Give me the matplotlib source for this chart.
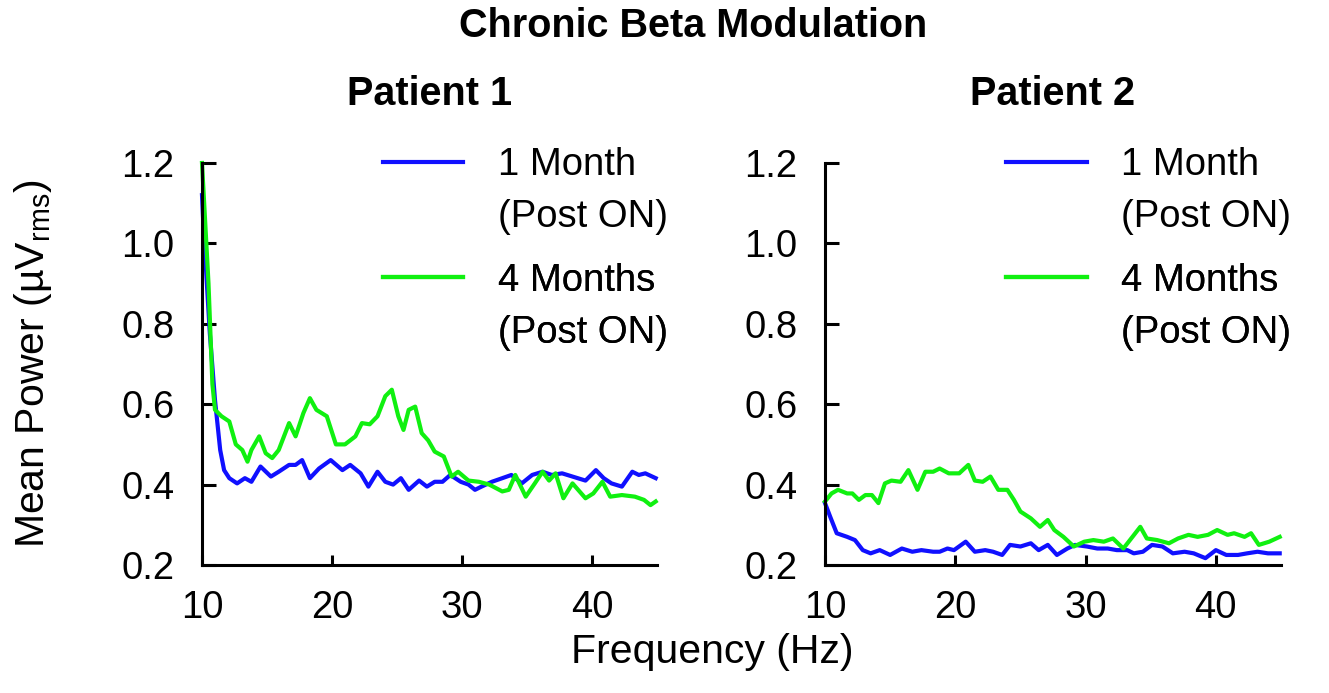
"""Chronic beta modulation: mean power spectra for two patients, 1 vs 4 months post ON."""

import matplotlib

matplotlib.use("Agg")
import matplotlib.pyplot as plt
from matplotlib.lines import Line2D

# ---- data ----
p1_freq_1m = [10.0, 10.1, 10.6, 11.0, 11.4, 11.7, 12.1, 12.7, 13.3, 13.8, 14.5, 15.3, 15.9,
              16.7, 17.2, 17.7, 18.3, 19.0, 19.9, 20.8, 21.4, 22.2, 22.8, 23.5, 24.1, 24.7,
              25.3, 25.9, 26.7, 27.3, 27.9, 28.5, 29.1, 29.9, 30.5, 31.0, 31.5, 32.3, 33.1,
              33.8, 34.6, 35.4, 36.2, 36.9, 37.7, 38.5, 39.5, 40.3, 40.9, 41.5, 42.3, 43.1,
              43.6, 44.1, 44.9]
p1_pow_1m = [1.12, 1.05, 0.777, 0.61, 0.486, 0.436, 0.416, 0.403, 0.416, 0.407, 0.445, 0.42,
             0.432, 0.449, 0.449, 0.461, 0.416, 0.44, 0.461, 0.436, 0.449, 0.428, 0.395, 0.432,
             0.407, 0.40, 0.416, 0.387, 0.41, 0.395, 0.407, 0.407, 0.424, 0.407, 0.40, 0.387,
             0.395, 0.407, 0.416, 0.424, 0.403, 0.424, 0.432, 0.424, 0.428, 0.42, 0.41, 0.436,
             0.416, 0.403, 0.395, 0.432, 0.424, 0.428, 0.416]

p1_freq_4m = [10.0, 10.5, 10.8, 11.0, 11.5, 12.1, 12.6, 13.1, 13.5, 13.8, 14.4, 14.9, 15.4,
              15.9, 16.7, 17.2, 17.8, 18.3, 18.8, 19.2, 19.6, 20.3, 21.0, 21.8, 22.3, 22.9,
              23.5, 24.1, 24.6, 25.1, 25.5, 25.9, 26.4, 26.9, 27.4, 27.9, 28.6, 29.2, 29.7,
              30.5, 31.3, 32.1, 33.1, 33.6, 34.1, 34.9, 35.6, 36.2, 36.7, 37.2, 37.8, 38.5,
              39.5, 40.1, 40.8, 41.4, 42.3, 43.3, 44.0, 44.5, 44.9]
p1_pow_4m = [1.2, 0.90, 0.65, 0.586, 0.57, 0.557, 0.50, 0.486, 0.457, 0.486, 0.52, 0.478,
             0.466, 0.486, 0.553, 0.52, 0.578, 0.615, 0.586, 0.578, 0.57, 0.50, 0.50, 0.52,
             0.553, 0.55, 0.57, 0.62, 0.636, 0.57, 0.536, 0.586, 0.594, 0.528, 0.51, 0.482,
             0.47, 0.42, 0.432, 0.41, 0.407, 0.40, 0.383, 0.387, 0.424, 0.37, 0.403, 0.432,
             0.41, 0.428, 0.366, 0.403, 0.366, 0.378, 0.407, 0.37, 0.374, 0.37, 0.362, 0.349,
             0.358]

p2_freq_1m = [10.0, 10.4, 10.9, 11.7, 12.3, 12.9, 13.5, 14.2, 15.0, 15.9, 16.7, 17.4, 18.3,
              18.8, 19.4, 19.9, 20.8, 21.5, 22.3, 22.9, 23.6, 24.2, 25.0, 25.8, 26.4, 27.1,
              27.8, 28.6, 29.2, 30.1, 30.9, 31.7, 32.4, 33.2, 33.7, 34.4, 35.1, 35.9, 36.7,
              37.6, 38.3, 39.2, 40.0, 40.8, 41.7, 42.4, 43.2, 44.0, 44.9]
p2_pow_1m = [0.354, 0.32, 0.279, 0.27, 0.262, 0.237, 0.229, 0.237, 0.225, 0.241, 0.233, 0.237,
             0.233, 0.233, 0.241, 0.237, 0.258, 0.233, 0.237, 0.233, 0.225, 0.25, 0.246, 0.254,
             0.237, 0.25, 0.225, 0.241, 0.25, 0.246, 0.241, 0.241, 0.237, 0.237, 0.229, 0.233,
             0.25, 0.246, 0.229, 0.233, 0.229, 0.217, 0.237, 0.225, 0.225, 0.229, 0.233, 0.229,
             0.229]

p2_freq_4m = [10.0, 10.5, 11.0, 11.7, 12.1, 12.6, 13.1, 13.6, 14.1, 14.6, 15.1, 15.8, 16.4,
              17.1, 17.7, 18.3, 18.8, 19.5, 20.3, 21.0, 21.5, 22.1, 22.7, 23.3, 24.0, 24.5,
              25.0, 25.8, 26.5, 27.1, 27.6, 28.3, 29.1, 29.9, 30.6, 31.4, 32.1, 32.9, 33.6,
              34.2, 34.7, 35.5, 36.4, 37.1, 37.9, 38.6, 39.4, 40.1, 40.9, 41.4, 42.2, 42.7,
              43.3, 44.1, 44.9]
p2_pow_4m = [0.358, 0.378, 0.387, 0.378, 0.378, 0.362, 0.374, 0.374, 0.354, 0.403, 0.41, 0.407,
             0.436, 0.387, 0.432, 0.432, 0.44, 0.428, 0.428, 0.449, 0.41, 0.407, 0.42, 0.387,
             0.387, 0.362, 0.333, 0.316, 0.295, 0.312, 0.287, 0.27, 0.246, 0.258, 0.262, 0.258,
             0.266, 0.241, 0.27, 0.295, 0.266, 0.262, 0.254, 0.266, 0.275, 0.27, 0.275, 0.287,
             0.275, 0.279, 0.27, 0.279, 0.25, 0.258, 0.27]

patients = ["Patient 1", "Patient 2"]
series_labels = ["1 Month", "4 Months"]
series_note = "(Post ON)"
x_ticks = [10, 20, 30, 40]
y_ticks = [0.2, 0.4, 0.6, 0.8, 1.0, 1.2]

BLUE = "#1010ff"
GREEN = "#10f010"

plt.rcParams.update({
    "font.family": ["Liberation Sans", "DejaVu Sans"],
    "mathtext.fontset": "custom",
    "mathtext.rm": "Liberation Sans",
    "mathtext.it": "Liberation Sans:italic",
    "axes.linewidth": 2.2,
})

fig = plt.figure(figsize=(13.29, 6.93), dpi=100)
ax1 = fig.add_axes([202 / 1329, 1 - 565 / 693, 455 / 1329, 402 / 693])
ax2 = fig.add_axes([825 / 1329, 1 - 565 / 693, 456 / 1329, 402 / 693])

panels = [
    (ax1, patients[0], p1_freq_1m, p1_pow_1m, p1_freq_4m, p1_pow_4m),
    (ax2, patients[1], p2_freq_1m, p2_pow_1m, p2_freq_4m, p2_pow_4m),
]

for ax, name, f1, v1, f4, v4 in panels:
    l1, = ax.plot(f1, v1, color=BLUE, lw=3, clip_on=False)
    l4, = ax.plot(f4, v4, color=GREEN, lw=3, clip_on=False)

    ax.set_xlim(10, 45)
    ax.set_ylim(0.2, 1.2)
    ax.set_xticks(x_ticks)
    ax.set_yticks(y_ticks)
    ax.set_yticklabels([f"{v:.1f}" for v in y_ticks])
    # longer marker at the top of the y axis
    ax.set_yticks([1.2], minor=True)

    for side in ("top", "right"):
        ax.spines[side].set_visible(False)

    ax.tick_params(axis="x", direction="in", length=7.5, width=2.2, labelsize=27.5, pad=18)
    ax.tick_params(axis="y", direction="in", length=10, width=2.2, labelsize=27.5, pad=20)
    ax.tick_params(axis="y", which="minor", direction="in", length=18, width=2.2)

    ax.text(0.5, (565 - 105) / 402, name, transform=ax.transAxes, ha="center",
            va="baseline", fontsize=28.5, fontweight="bold")

    # one small legend per series so the handle sits by the first label line
    blank = Line2D([], [], color="none")
    for handle, label, top in [(l1, series_labels[0], 1.040), (l4, series_labels[1], 0.752)]:
        leg = ax.legend([handle, blank], [label, series_note], loc="upper left",
                        bbox_to_anchor=(0.398, top), frameon=False, fontsize=27.5,
                        borderpad=0, borderaxespad=0, handlelength=2.1,
                        handletextpad=0.9, labelspacing=0.42)
        for line in leg.get_lines():
            line.set_linewidth(3)
        ax.add_artist(leg)

fig.text(693 / 1329, 1 - 37 / 693, "Chronic Beta Modulation", ha="center",
         va="baseline", fontsize=28.5, fontweight="bold")
fig.text(712 / 1329, 1 - 652 / 693, "Frequency (Hz)", ha="center", va="center",
         fontsize=29.5)
fig.text(33 / 1329, 1 - 364 / 693, r"Mean Power (µV$_\mathrm{rms}$)", rotation=90,
         ha="center", va="center", fontsize=29.5)

fig.savefig("out.png", dpi=100)
